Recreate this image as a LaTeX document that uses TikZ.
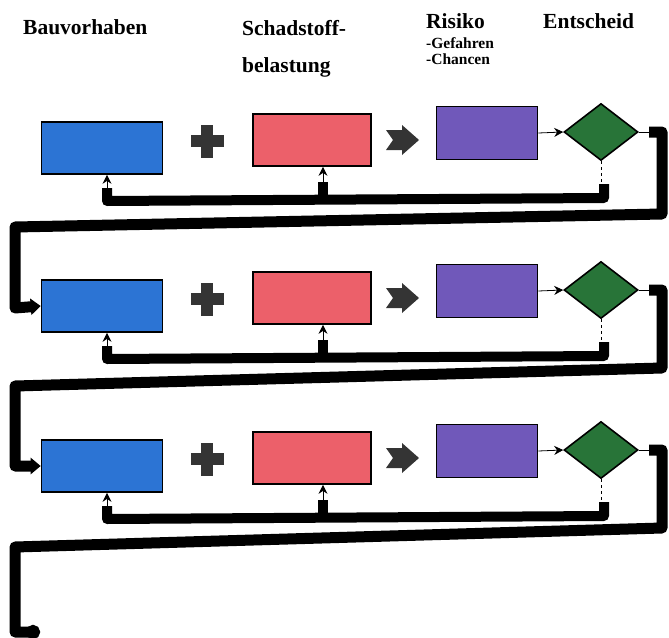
\documentclass[tikz,border=0pt]{standalone}
\usepackage{fontspec}
\setmainfont{Liberation Serif}
\usetikzlibrary{shapes.geometric, arrows.meta, positioning}

\definecolor{baublue}{RGB}{44,116,212}
\definecolor{schadred}{RGB}{236,96,106}
\definecolor{riskviolet}{RGB}{112,88,186}
\definecolor{entgreen}{RGB}{40,116,56}
\definecolor{symbgray}{RGB}{52,52,52}

\tikzset{
    box/.style={draw=black, line width=1.6pt, rectangle, inner sep=0pt},
    bau/.style={box, fill=baublue, minimum width=121pt, minimum height=52pt},
    schad/.style={box, fill=schadred, minimum width=118pt, minimum height=52pt},
    risk/.style={box, fill=riskviolet, minimum width=101pt, minimum height=53pt},
    decide/.style={diamond, draw=black, line width=1.6pt, fill=entgreen,
        minimum width=74pt, minimum height=57pt, inner sep=0pt},
    heading/.style={font=\fontsize{21.5}{24}\selectfont\bfseries, anchor=base west, inner sep=0pt},
    subheading/.style={font=\fontsize{15.5}{17}\selectfont\bfseries, anchor=base west, inner sep=0pt},
    flow/.style={line width=11pt, line join=round},
    feed/.style={line width=10pt, line join=round},
    thinarrow/.style={->, line width=0.8pt},
}

\begin{document}
\begin{tikzpicture}[x=1pt, y=-1pt, >={Stealth[length=9pt, width=9pt]}]
    \useasboundingbox (0,0) rectangle (669,637);

    % column heads
    \node[heading] (bauhead) at (23,34) {Bauvorhaben};
    \node[heading] (schadhead) at (242,35) {Schadstoff-};
    \node[heading] (schadhead2) at (242,72) {belastung};
    \node[heading] (riskhead) at (426,28) {Risiko};
    \node[subheading] (gefahr) at (426,48) {-Gefahren};
    \node[subheading] (chance) at (426,64) {-Chancen};
    \node[heading] (enthead) at (543,28) {Entscheid};

    % three rows
    \foreach \r/\cy in {1/148, 2/306, 3/466} {
        \node[bau] (bau\r) at (102,\cy) {};
        \node[schad] (schad\r) at (312,\cy-8) {};
        \node[risk] (risk\r) at (487,\cy-15) {};
        \node[decide] (ent\r) at (601,\cy-16) {};

        % plus and arrow symbols
        \fill[symbgray] (201,\cy-23.5) rectangle (213,\cy+9.5);
        \fill[symbgray] (190.5,\cy-13) rectangle (223.5,\cy-1);
        \fill[symbgray] (386,\cy-18) -- (402,\cy-18) -- (402,\cy-23) -- (419,\cy-8)
            -- (402,\cy+7) -- (402,\cy+2) -- (386,\cy+2) -- (393,\cy-8) -- cycle;

        \draw[thinarrow] (risk\r.east) -- (ent\r.west);

        % feedback loop
        \coordinate (stub\r) at (604,\cy+36);
        \coordinate (fbbau\r) at (107,\cy+40);
        \coordinate (fbschad\r) at (323,\cy+34);
        \draw[dashed, line width=0.8pt] (ent\r.south) -- (ent\r.south |- stub\r);
        \draw[feed] (stub\r) -- (604,\cy+50) -- (107,\cy+53) -- (fbbau\r);
        \draw[feed] (323,\cy+52) -- (fbschad\r);
        \draw[thinarrow] (fbbau\r) -- (fbbau\r |- bau\r.south);
        \draw[thinarrow] (fbschad\r) -- (fbschad\r |- schad\r.south);

        % output of the decision
        \coordinate (out\r) at (649,\cy-16);
        \draw[line width=0.8pt] (ent\r.east) -- (out\r);
    }

    % return lines to the next row
    \draw[flow, -{Triangle[length=10pt, width=16pt]}]
        (out1) -- (662,132) -- (662,214) -- (15,227) -- (15,308) -- (bau2.west);
    \draw[flow, -{Triangle[length=10pt, width=16pt]}]
        (out2) -- (662,290) -- (662,368) -- (15,386) -- (15,466) -- (bau3.west);
    \coordinate (finish) at (40,632);
    \draw[flow, -{Circle[length=14pt]}]
        (out3) -- (662,450) -- (662,528) -- (15,547) -- (15,632) -- (finish);
\end{tikzpicture}
\end{document}
